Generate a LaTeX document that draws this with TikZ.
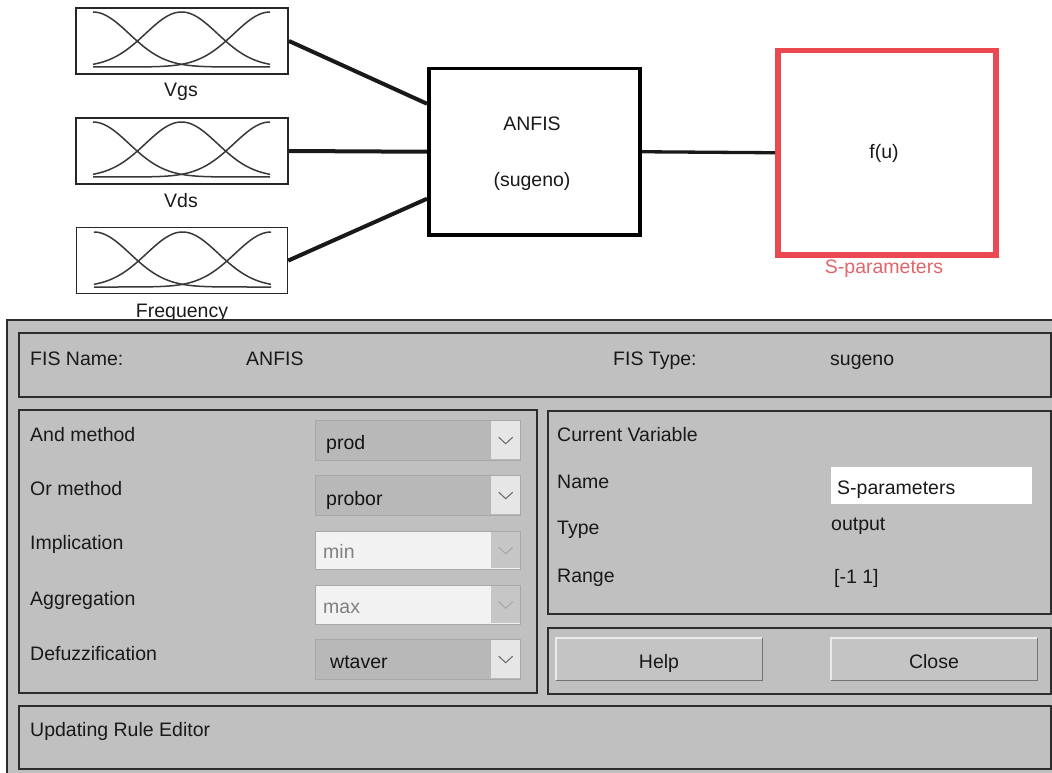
\documentclass[tikz,border=0pt]{standalone}
\usepackage{fontspec}
\setmainfont{Liberation Sans}
\newcommand\uisize{\fontsize{19.5}{23}\selectfont}
\definecolor{panelgray}{RGB}{192,192,192}
\definecolor{edgedark}{RGB}{45,45,45}
\definecolor{sred}{RGB}{236,72,82}
\definecolor{slabel}{RGB}{226,100,104}
\definecolor{fieldon}{RGB}{184,184,184}
\definecolor{fieldoff}{RGB}{242,242,242}
\definecolor{arrowon}{RGB}{230,230,230}
\definecolor{arrowoff}{RGB}{198,198,198}
\definecolor{ddedge}{RGB}{168,168,168}
\definecolor{btnface}{RGB}{196,196,196}

\tikzset{
  mfbox/.style={draw=black!85, anchor=north west, minimum width=212, minimum height=66, inner sep=0},
  mfcurve/.style={line width=1.5pt, draw=black!78},
  wire/.style={line width=4pt, draw=black!90},
  outwire/.style={line width=3.3pt, draw=black!90},
  lbl/.style={inner sep=0, anchor=base, text=black!90},
  ltxt/.style={inner sep=0, anchor=base west, text=black!90},
  frame/.style={draw=edgedark, line width=1.6pt, anchor=north west, inner sep=0},
  ddfield/.style={anchor=north west, minimum width=205, inner sep=0, draw=ddedge, line width=0.8pt},
  ddarrow/.style={anchor=north west, minimum width=29, inner sep=0},
  ddon/.style={
    ddfield/.append style={fill=fieldon},
    ddarrow/.append style={fill=arrowon},
    ddchev/.style={draw=black!60, line width=1pt},
    ddtext/.style={inner sep=0, anchor=base west, text=black!92}},
  ddoff/.style={
    ddfield/.append style={fill=fieldoff},
    ddarrow/.append style={fill=arrowoff},
    ddchev/.style={draw=black!36, line width=0.9pt},
    ddtext/.style={inner sep=0, anchor=base west, text=black!50}},
  button/.style={anchor=north west, minimum width=206, minimum height=42, inner sep=0, fill=btnface},
  btnlight/.style={draw=white!92!black, line width=1.6pt},
  btndark/.style={draw=black!55, line width=1.6pt},
}

% three bell-shaped membership functions inside a box
\newcommand\mfcurves[1]{%
  \begin{scope}[shift={(#1.north west)}]
    \foreach \c in {18,106.5,195}
      \draw[mfcurve] plot[domain=18:195, samples=90, smooth]
        (\x,{60-55*exp(-0.5*((\x-\c)/36)*((\x-\c)/36))});
  \end{scope}}

% a pop-up menu: name, top, bottom, text x, baseline, text
\newcommand\dropdown[6]{%
  \node[ddfield, minimum height={#3-#2}] (#1) at (315,#2) {};
  \node[ddarrow, minimum height={#3-#2-1.6}] (#1-arrow) at (491,#2+0.8) {};
  \draw[ddchev] ([xshift=-7pt,yshift=3pt]#1-arrow.center)
     -- ([yshift=-3.5pt]#1-arrow.center) -- ([xshift=7pt,yshift=3pt]#1-arrow.center);
  \node[ddtext] (#1-text) at (#4,#5) {#6};
}

\begin{document}
\begin{tikzpicture}[x=1pt, y=-1pt, font=\uisize]
\useasboundingbox (0,0) rectangle (1052,773);

% ---- block diagram ----
\node[mfbox, line width=2pt] (vgs) at (75,7) {};
\node[mfbox, line width=2pt] (vds) at (75,117) {};
\node[mfbox, line width=1.2pt, minimum width=211] (freq) at (76,227) {};
\mfcurves{vgs}
\mfcurves{vds}
\mfcurves{freq}
\node[lbl] (vgs-label) at (181,97) {Vgs};
\node[lbl] (vds-label) at (181,207) {Vds};
\node[lbl] (freq-label) at (182,317) {Frequency};

\node[draw=black, line width=3.5pt, anchor=north west, minimum width=211,
      minimum height=166, inner sep=0] (anfis) at (427,67) {};
\node[lbl] (anfis-name) at (532,131) {ANFIS};
\node[lbl] (anfis-type) at (532,186) {(sugeno)};

\node[draw=sred, line width=5.5pt, anchor=north west, minimum width=218,
      minimum height=204, inner sep=0] (sfun) at (775,48) {};
\node[lbl] (sfun-expr) at (884,159) {f(u)};
\node[lbl, text=slabel] (sfun-label) at (884,273) {S-parameters};

\draw[wire] (vgs.east) -- ([yshift=48pt]anfis.west);
\draw[wire] (vds.east) -- (anfis.west);
\draw[wire] (freq.east) -- ([yshift=-47pt]anfis.west);
\draw[outwire] (anfis.east) -- (sfun.west);

% ---- FIS editor panel ----
\fill[panelgray] (7,320) rectangle (1060,780);
\draw[edgedark, line width=1.6pt] (1060,320) -- (7,320) -- (7,780);

\node[frame, minimum width=1032, minimum height=64] (fisname) at (18,332) {};
\node[frame, minimum width=518, minimum height=283] (methods) at (18,409) {};
\node[frame, minimum width=503, minimum height=203] (curvar) at (547,410) {};
\node[frame, minimum width=503, minimum height=66] (btns) at (547,627) {};
\node[frame, minimum width=1032, minimum height=63] (status) at (18,705) {};

\node[ltxt] (fisname-key) at (30,365) {FIS Name:};
\node[ltxt] (fisname-val) at (246,365) {ANFIS};
\node[ltxt] (fistype-key) at (613,365) {FIS Type:};
\node[ltxt] (fistype-val) at (830,365) {sugeno};

\node[ltxt] (and-key) at (30,441) {And method};
\node[ltxt] (or-key) at (30,495) {Or method};
\node[ltxt] (imp-key) at (30,549) {Implication};
\node[ltxt] (agg-key) at (30,605) {Aggregation};
\node[ltxt] (defuzz-key) at (30,660) {Defuzzification};

\begin{scope}[ddon]
  \dropdown{andm}{420}{460}{326}{449}{prod}
  \dropdown{orm}{475}{515}{326}{505}{probor}
  \dropdown{defuzz}{639}{679}{330}{668}{wtaver}
\end{scope}
\begin{scope}[ddoff]
  \dropdown{imp}{531}{569}{323}{558}{min}
  \dropdown{agg}{585}{624}{323}{613}{max}
\end{scope}

\node[ltxt] (cv-title) at (557,441) {Current Variable};
\node[ltxt] (cv-name) at (557,488) {Name};
\node[ltxt] (cv-type) at (557,534) {Type};
\node[ltxt] (cv-range) at (557,582) {Range};
\node[fill=white, anchor=north west, minimum width=201, minimum height=37, inner sep=0]
  (cv-namebox) at (831,467) {};
\node[ltxt] (cv-name-val) at (837,494) {S-parameters};
\node[ltxt] (cv-type-val) at (831,530) {output};
\node[ltxt] (cv-range-val) at (834,583) {[-1 1]};

\node[button] (help) at (556,638) {};
\node[button] (close) at (831,638) {};
\foreach \b in {help,close}{
  \draw[btnlight] (\b.south west) -- (\b.north west) -- (\b.north east);
  \draw[btndark] (\b.north east) -- (\b.south east) -- (\b.south west);
}
\node[lbl] (help-text) at (659,668) {Help};
\node[lbl] (close-text) at (934,668) {Close};

\node[ltxt] (status-text) at (30,736) {Updating Rule Editor};
\end{tikzpicture}
\end{document}
